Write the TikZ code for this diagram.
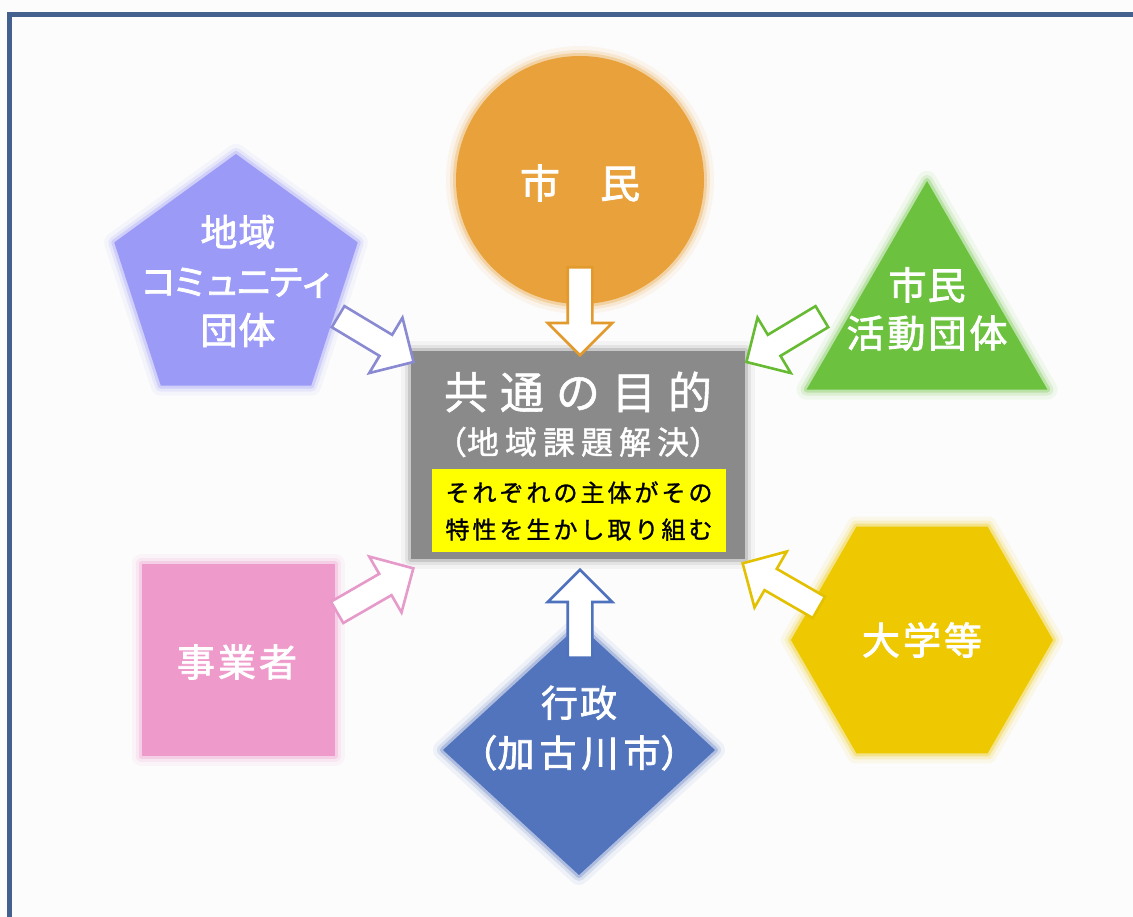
\documentclass[tikz,border=0pt]{standalone}
\usepackage{fontspec}
\setmainfont{Noto Sans CJK JP}
\newfontfamily\jpm[FakeBold=2]{Noto Sans CJK JP}
\newfontfamily\jps[FakeBold=1.2]{Noto Sans CJK JP}
\usetikzlibrary{shapes.geometric,shapes.arrows}
\definecolor{bordc}{HTML}{44608F}
\definecolor{bgc}{HTML}{FCFCFC}
\definecolor{orc}{HTML}{E9A23B}
\definecolor{puc}{HTML}{9B9BF7}
\definecolor{grc}{HTML}{6CC23F}
\definecolor{pkc}{HTML}{EE9ACB}
\definecolor{blc}{HTML}{5274BD}
\definecolor{yhc}{HTML}{EEC800}
\definecolor{gyc}{HTML}{8A8A8A}
\definecolor{ylc}{HTML}{FFFF00}
\definecolor{puA}{HTML}{8A8AD2}
\definecolor{orA}{HTML}{E39A2D}
\definecolor{grA}{HTML}{66BB33}
\definecolor{pkA}{HTML}{E59AC9}
\definecolor{yhA}{HTML}{E3C000}
\definecolor{blA}{HTML}{4F72BE}
\newcommand\kk[1]{\hspace{#1pt}}
\tikzset{
  soft/.style={fill=#1, line join=round,
    preaction={draw=#1, draw opacity=0.08, line width=20pt},
    preaction={draw=#1, draw opacity=0.15, line width=12pt},
    preaction={draw=#1, draw opacity=0.30, line width=6pt}},
  shp/.style={inner sep=0pt, outer sep=0pt},
  lbl/.style={text=white, align=center, font=\jpm\fontsize{37}{49}\selectfont},
  barrow/.style={single arrow, draw=#1, fill=white, line width=2.6pt,
    inner xsep=0pt, inner ysep=11pt, minimum height=88pt,
    single arrow head extend=20pt, anchor=tail, line join=miter}
}
\begin{document}
\begin{tikzpicture}[x=1pt,y=-1pt]
\useasboundingbox (0,0) rectangle (1133,917);
\fill[bgc] (0,0) rectangle (1133,917);
\draw[bordc, line width=5pt] (9.5,940) -- (9.5,14.5) -- (1150,14.5);

% shapes
\node[shp, circle, soft=orc, minimum size=248pt] (shimin) at (580,180) {};
\node[shp, regular polygon, regular polygon sides=5, soft=puc, minimum size=256pt] (chiiki) at (236,282) {};
\node[shp, regular polygon, regular polygon sides=3, soft=grc, minimum size=278pt] (katsudo) at (927,320) {};
\node[shp, rectangle, soft=pkc, minimum width=193pt, minimum height=192pt] (jigyo) at (238,660) {};
\node[shp, regular polygon, regular polygon sides=6, soft=yhc, minimum size=262pt] (daigaku) at (922,640) {};
\node[shp, diamond, soft=blc, minimum width=272pt, minimum height=250pt] (gyosei) at (579,750) {};

% centre box
\node[shp, rectangle, soft=gyc, minimum width=334pt, minimum height=208pt] (goal) at (578,455) {};
\node[shp, rectangle, fill=ylc, minimum width=294pt, minimum height=83pt] (ybox) at (579,510.5) {};

% labels
\node[lbl, font=\jpm\fontsize{40}{40}\selectfont] (l1) at (580,183) {市　民};
\node[lbl] (l2) at (238,281) {地\kk{1}域\\{\fontsize{36}{49}\selectfont コ\kk{-4}ミ\kk{-4}ュ\kk{-4}ニ\kk{-4}テ\kk{-4}ィ}\\団\kk{1}体};
\node[lbl, font=\jpm\fontsize{38}{48}\selectfont] (l3) at (927,309) {市\kk{1}民\\活\kk{3}動\kk{3}団\kk{3}体};
\node[lbl, font=\jpm\fontsize{38}{48}\selectfont] (l4) at (237,662) {事\kk{3}業\kk{3}者};
\node[lbl, font=\jpm\fontsize{38}{48}\selectfont] (l5) at (922,640) {大\kk{3}学\kk{3}等};
\node[lbl, font=\jpm\fontsize{37}{50}\selectfont] (l6) at (579,728) {行\kk{2}政\\（加\kk{5}古\kk{5}川\kk{5}市）};
\node[text=white, font=\jps\fontsize{44}{50}\selectfont] (t1) at (578,392) {共\kk{12}通\kk{12}の\kk{12}目\kk{12}的};
\node[text=white, font=\jps\fontsize{32}{40}\selectfont] (t2) at (578,442) {（地\kk{6}域\kk{6}課\kk{6}題\kk{6}解\kk{6}決）};
\node[text=black, align=left, font=\jps\fontsize{24}{37}\selectfont] (t3) at (579,511) {そ\kk{3}れ\kk{3}ぞ\kk{3}れ\kk{3}の\kk{3}主\kk{3}体\kk{3}が\kk{3}そ\kk{3}の\\特\kk{3}性\kk{3}を\kk{3}生\kk{3}か\kk{3}し\kk{3}取\kk{3}り\kk{3}組\kk{3}む};

% block arrows
\node[barrow=orA, rotate=-90] (a1) at (580,266) {};
\node[barrow=blA, rotate=90] (a2) at (580,659) {};
\node[barrow=puA, rotate=-31] (a3) at (337,316) {};
\node[barrow=grA, rotate=211] (a4) at (823,316) {};
\node[barrow=pkA, rotate=30] (a5) at (336,613) {};
\node[barrow=yhA, rotate=150] (a6) at (820,608) {};
\end{tikzpicture}
\end{document}
